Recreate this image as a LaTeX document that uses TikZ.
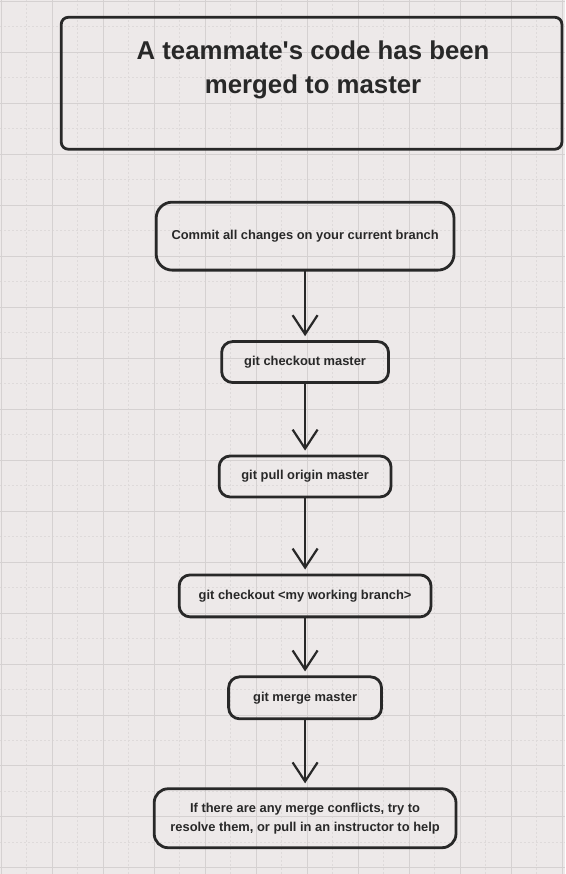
\documentclass[tikz,border=0pt]{standalone}
\usepackage{fontspec}
\setmainfont{Liberation Sans}
\usepackage{tikz}
\usetikzlibrary{arrows.meta}

\definecolor{paper}{RGB}{237,233,233}
\definecolor{gridline}{RGB}{213,209,209}
\definecolor{gridminor}{RGB}{222,218,218}
\definecolor{ink}{RGB}{40,40,40}

\begin{document}
\begin{tikzpicture}[x=1pt,y=-1pt,
  every node/.style={inner sep=0pt,text=ink,font=\bfseries\fontsize{12.9}{19}\selectfont},
  stepbox/.style={draw=ink,line width=2.8pt,rounded corners=11pt,align=center},
  flow/.style={draw=ink,line width=2.2pt,line cap=round,-{Straight Barb[length=19pt,width=25pt]},shorten >=4pt}]
% paper and grid
\fill[paper] (0,0) rectangle (565,874);
\foreach \g in {26.5,77.5,...,565} \draw[gridminor,line width=0.6pt,dash pattern=on 2pt off 2pt] (\g,0) -- (\g,874);
\foreach \g in {26.5,77.5,...,874} \draw[gridminor,line width=0.6pt,dash pattern=on 2pt off 2pt] (0,\g) -- (565,\g);
\foreach \g in {1,52,...,565} \draw[gridline,line width=0.6pt] (\g,0) -- (\g,874);
\foreach \g in {1,52,...,874} \draw[gridline,line width=0.6pt] (0,\g) -- (565,\g);
% title
\node[stepbox,rounded corners=7pt,minimum width=501,minimum height=132](titlebox) at (311.5,83){} ;
\node[align=center,font=\bfseries\fontsize{25.8}{34}\selectfont](title) at (313,69.5){A teammate\textquotesingle s code has been\\merged to master} ;
% steps
\node[stepbox,rounded corners=16pt,minimum width=298,minimum height=68](commit) at (305,236){Commit all changes on your current branch} ;
\node[stepbox,minimum width=167,minimum height=41](checkout) at (305,362){git checkout master} ;
\node[stepbox,minimum width=172,minimum height=41](pull) at (305,476.5){git pull origin master} ;
\node[stepbox,minimum width=252,minimum height=42](branch) at (305,596){git checkout <my working branch>} ;
\node[stepbox,minimum width=153,minimum height=42](merge) at (305,698){git merge master} ;
\node[stepbox,rounded corners=14pt,minimum width=302,minimum height=59](conflicts) at (305,818.5){If there are any merge conflicts, try to\\resolve them, or pull in an instructor to help} ;
\draw[flow](commit) -- (checkout);
\draw[flow](checkout) -- (pull);
\draw[flow](pull) -- (branch);
\draw[flow](branch) -- (merge);
\draw[flow](merge) -- (conflicts);
\end{tikzpicture}
\end{document}
